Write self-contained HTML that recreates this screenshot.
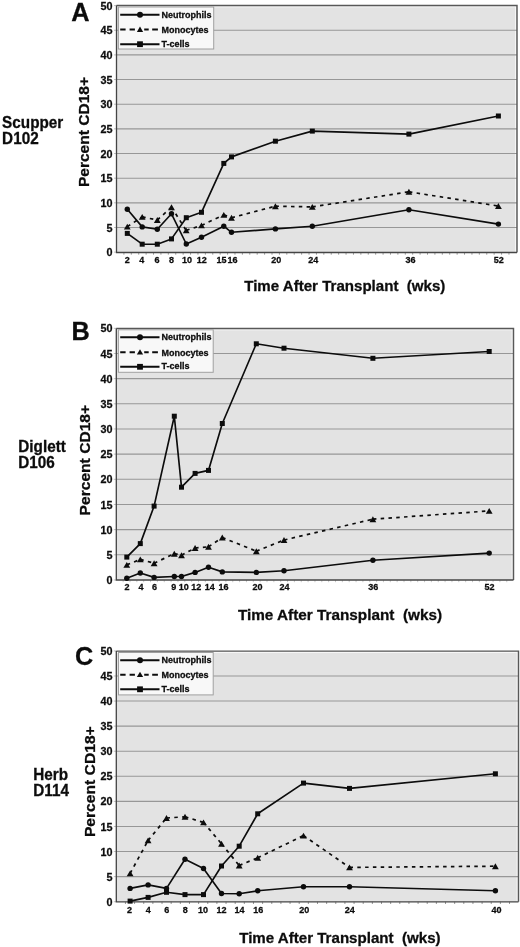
<!DOCTYPE html>
<html><head><meta charset="utf-8"><style>
html,body{margin:0;padding:0;background:#fff;}
body{width:520px;height:947px;overflow:hidden;}
svg{display:block;will-change:transform;}
text{font-family:"Liberation Sans", sans-serif;font-weight:bold;fill:#0c0c0c;stroke:#0c0c0c;stroke-width:0.28px;}
.yl{font-size:10.8px;}
.xl{font-size:9px;}
.lg{font-size:9px;}
.pl{font-size:25.3px;}
.sj{font-size:15.3px;}
.yt{font-size:15.2px;}
.xt{font-size:15px;}
</style></head><body>
<svg width="520" height="947" viewBox="0 0 520 947">
<rect width="520" height="947" fill="#fff"/>
<rect x="116.5" y="5.5" width="400.5" height="247" fill="#e3e3e3"/>
<line x1="116.5" y1="6.8" x2="516" y2="6.8" stroke="#fafafa" stroke-width="1"/>
<line x1="515.7" y1="6.5" x2="515.7" y2="252.5" stroke="#fafafa" stroke-width="1"/>
<line x1="116.5" y1="227.48" x2="517" y2="227.48" stroke="#979797" stroke-width="1.1"/>
<line x1="116.5" y1="202.83" x2="517" y2="202.83" stroke="#979797" stroke-width="1.1"/>
<line x1="116.5" y1="178.18" x2="517" y2="178.18" stroke="#979797" stroke-width="1.1"/>
<line x1="116.5" y1="153.52" x2="517" y2="153.52" stroke="#979797" stroke-width="1.1"/>
<line x1="116.5" y1="128.87" x2="517" y2="128.87" stroke="#979797" stroke-width="1.1"/>
<line x1="116.5" y1="104.21" x2="517" y2="104.21" stroke="#979797" stroke-width="1.1"/>
<line x1="116.5" y1="79.56" x2="517" y2="79.56" stroke="#979797" stroke-width="1.1"/>
<line x1="116.5" y1="54.9" x2="517" y2="54.9" stroke="#979797" stroke-width="1.1"/>
<line x1="116.5" y1="30.25" x2="517" y2="30.25" stroke="#979797" stroke-width="1.1"/>
<line x1="114" y1="252.14" x2="116.5" y2="252.14" stroke="#b0b0b0" stroke-width="0.8"/>
<line x1="114" y1="227.48" x2="116.5" y2="227.48" stroke="#b0b0b0" stroke-width="0.8"/>
<line x1="114" y1="202.83" x2="116.5" y2="202.83" stroke="#b0b0b0" stroke-width="0.8"/>
<line x1="114" y1="178.18" x2="116.5" y2="178.18" stroke="#b0b0b0" stroke-width="0.8"/>
<line x1="114" y1="153.52" x2="116.5" y2="153.52" stroke="#b0b0b0" stroke-width="0.8"/>
<line x1="114" y1="128.87" x2="116.5" y2="128.87" stroke="#b0b0b0" stroke-width="0.8"/>
<line x1="114" y1="104.21" x2="116.5" y2="104.21" stroke="#b0b0b0" stroke-width="0.8"/>
<line x1="114" y1="79.56" x2="116.5" y2="79.56" stroke="#b0b0b0" stroke-width="0.8"/>
<line x1="114" y1="54.9" x2="116.5" y2="54.9" stroke="#b0b0b0" stroke-width="0.8"/>
<line x1="114" y1="30.25" x2="116.5" y2="30.25" stroke="#b0b0b0" stroke-width="0.8"/>
<line x1="114" y1="5.59" x2="116.5" y2="5.59" stroke="#b0b0b0" stroke-width="0.8"/>
<path d="M123.91 252.5v2.2M131.31 252.5v2.2M138.72 252.5v2.2M146.12 252.5v2.2M153.53 252.5v2.2M160.93 252.5v2.2M168.34 252.5v2.2M175.74 252.5v2.2M183.15 252.5v2.2M190.55 252.5v2.2M197.96 252.5v2.2M205.36 252.5v2.2M212.77 252.5v2.2M220.17 252.5v2.2M227.58 252.5v2.2M234.98 252.5v2.2M242.39 252.5v2.2M249.79 252.5v2.2M257.19 252.5v2.2M264.6 252.5v2.2M272 252.5v2.2M279.41 252.5v2.2M286.81 252.5v2.2M294.22 252.5v2.2M301.62 252.5v2.2M309.03 252.5v2.2M316.43 252.5v2.2M323.84 252.5v2.2M331.24 252.5v2.2M338.65 252.5v2.2M346.05 252.5v2.2M353.46 252.5v2.2M360.86 252.5v2.2M368.27 252.5v2.2M375.67 252.5v2.2M383.08 252.5v2.2M390.48 252.5v2.2M397.89 252.5v2.2M405.29 252.5v2.2M412.7 252.5v2.2M420.1 252.5v2.2M427.51 252.5v2.2M434.91 252.5v2.2M442.32 252.5v2.2M449.72 252.5v2.2M457.13 252.5v2.2M464.53 252.5v2.2M471.94 252.5v2.2M479.34 252.5v2.2M486.75 252.5v2.2M494.15 252.5v2.2M501.56 252.5v2.2M508.96 252.5v2.2" stroke="#909090" stroke-width="0.9" fill="none"/>
<path d="M116.5 5.5H517V252.5" fill="none" stroke="#585858" stroke-width="1.45"/>
<path d="M116.5 5.5V252.5H517" fill="none" stroke="#454545" stroke-width="1.3"/>
<text x="112.5" y="256.24" text-anchor="end" class="yl">0</text>
<text x="112.5" y="231.58" text-anchor="end" class="yl">5</text>
<text x="112.5" y="206.93" text-anchor="end" class="yl">10</text>
<text x="112.5" y="182.28" text-anchor="end" class="yl">15</text>
<text x="112.5" y="157.62" text-anchor="end" class="yl">20</text>
<text x="112.5" y="132.97" text-anchor="end" class="yl">25</text>
<text x="112.5" y="108.31" text-anchor="end" class="yl">30</text>
<text x="112.5" y="83.66" text-anchor="end" class="yl">35</text>
<text x="112.5" y="59" text-anchor="end" class="yl">40</text>
<text x="112.5" y="34.35" text-anchor="end" class="yl">45</text>
<text x="112.5" y="9.69" text-anchor="end" class="yl">50</text>
<text x="127.2" y="262.8" text-anchor="middle" class="xl">2</text>
<text x="141.8" y="262.8" text-anchor="middle" class="xl">4</text>
<text x="157" y="262.8" text-anchor="middle" class="xl">6</text>
<text x="171.6" y="262.8" text-anchor="middle" class="xl">8</text>
<text x="187.1" y="262.8" text-anchor="middle" class="xl">10</text>
<text x="201.8" y="262.8" text-anchor="middle" class="xl">12</text>
<text x="221.5" y="262.8" text-anchor="middle" class="xl">15</text>
<text x="232.6" y="262.8" text-anchor="middle" class="xl">16</text>
<text x="276.3" y="262.8" text-anchor="middle" class="xl">20</text>
<text x="313.2" y="262.8" text-anchor="middle" class="xl">24</text>
<text x="410.5" y="262.8" text-anchor="middle" class="xl">36</text>
<text x="498.8" y="262.8" text-anchor="middle" class="xl">52</text>
<polyline points="127.3,209.2 142.2,226.9 157.3,229.2 171.5,213.8 186.3,244 201.5,237.2 223.8,226.2 231.5,232.3 275.4,228.9 312.3,226.2 408.9,209.7 498.4,224.1" fill="none" stroke="#0c0c0c" stroke-width="1.65" stroke-linejoin="round"/>
<g stroke="#0c0c0c" stroke-width="1.7" stroke-dasharray="3.5,4.3"><line x1="127.3" y1="226.6" x2="142.2" y2="216.9"/><line x1="142.2" y1="216.9" x2="157.3" y2="220"/><line x1="157.3" y1="220" x2="171.5" y2="207.2"/><line x1="171.5" y1="207.2" x2="186.2" y2="230.4"/><line x1="186.2" y1="230.4" x2="201.5" y2="225.4"/><line x1="201.5" y1="225.4" x2="223.8" y2="214.9"/><line x1="223.8" y1="214.9" x2="231.5" y2="217.7"/><line x1="231.5" y1="217.7" x2="275.4" y2="206.2"/><line x1="275.4" y1="206.2" x2="312.3" y2="206.9"/><line x1="312.3" y1="206.9" x2="408.9" y2="191.8"/><line x1="408.9" y1="191.8" x2="498.4" y2="206"/></g>
<polyline points="127.3,233.4 142.2,244.2 157.3,244.2 171.5,238.9 186.3,217.7 201.5,212.3 223.8,163.4 231.5,156.9 275.4,141.2 312.3,131.1 408.9,134.1 498.4,116" fill="none" stroke="#0c0c0c" stroke-width="1.65" stroke-linejoin="round"/>
<g fill="#0c0c0c"><circle cx="127.3" cy="209.2" r="2.7"/><circle cx="142.2" cy="226.9" r="2.7"/><circle cx="157.3" cy="229.2" r="2.7"/><circle cx="171.5" cy="213.8" r="2.7"/><circle cx="186.3" cy="244" r="2.7"/><circle cx="201.5" cy="237.2" r="2.7"/><circle cx="223.8" cy="226.2" r="2.7"/><circle cx="231.5" cy="232.3" r="2.7"/><circle cx="275.4" cy="228.9" r="2.7"/><circle cx="312.3" cy="226.2" r="2.7"/><circle cx="408.9" cy="209.7" r="2.7"/><circle cx="498.4" cy="224.1" r="2.7"/></g>
<g fill="#0c0c0c"><polygon points="127.3,223.65 123.9,229.55 130.7,229.55"/><polygon points="142.2,213.95 138.8,219.85 145.6,219.85"/><polygon points="157.3,217.05 153.9,222.95 160.7,222.95"/><polygon points="171.5,204.25 168.1,210.15 174.9,210.15"/><polygon points="186.2,227.45 182.8,233.35 189.6,233.35"/><polygon points="201.5,222.45 198.1,228.35 204.9,228.35"/><polygon points="223.8,211.95 220.4,217.85 227.2,217.85"/><polygon points="231.5,214.75 228.1,220.65 234.9,220.65"/><polygon points="275.4,203.25 272,209.15 278.8,209.15"/><polygon points="312.3,203.95 308.9,209.85 315.7,209.85"/><polygon points="408.9,188.85 405.5,194.75 412.3,194.75"/><polygon points="498.4,203.05 495,208.95 501.8,208.95"/></g>
<g fill="#0c0c0c"><rect x="124.8" y="230.9" width="5" height="5"/><rect x="139.7" y="241.7" width="5" height="5"/><rect x="154.8" y="241.7" width="5" height="5"/><rect x="169" y="236.4" width="5" height="5"/><rect x="183.8" y="215.2" width="5" height="5"/><rect x="199" y="209.8" width="5" height="5"/><rect x="221.3" y="160.9" width="5" height="5"/><rect x="229" y="154.4" width="5" height="5"/><rect x="272.9" y="138.7" width="5" height="5"/><rect x="309.8" y="128.6" width="5" height="5"/><rect x="406.4" y="131.6" width="5" height="5"/><rect x="495.9" y="113.5" width="5" height="5"/></g>
<rect x="118.4" y="7" width="95.3" height="42" fill="#f8f8f8" stroke="#a0a0a0" stroke-width="1"/>
<line x1="120.2" y1="14.8" x2="159.5" y2="14.8" stroke="#0c0c0c" stroke-width="2.1"/>
<g fill="#0c0c0c"><circle cx="140" cy="14.8" r="3"/></g>
<text x="161.4" y="17.5" class="lg">Neutrophils</text>
<path d="M120.2 29.5H125.6M129.6 29.5H134.9M144.2 29.5H148.7M152.2 29.5H157.9" stroke="#0c0c0c" stroke-width="2.1"/>
<g fill="#0c0c0c"><polygon points="140,26.5 136.85,31.9 143.15,31.9"/></g>
<text x="161.4" y="33.1" class="lg">Monocytes</text>
<line x1="120.2" y1="44.2" x2="159.5" y2="44.2" stroke="#0c0c0c" stroke-width="2.1"/>
<g fill="#0c0c0c"><rect x="137.1" y="41.3" width="5.8" height="5.8"/></g>
<text x="161.4" y="46.6" class="lg">T-cells</text>
<text x="71.2" y="21.2" class="pl">A</text>
<text transform="translate(2.1,128.4) scale(1,1.04)" class="sj">Scupper</text>
<text transform="translate(2.1,144) scale(1,1.04)" class="sj">D102</text>
<text transform="translate(89,132.05) rotate(-90)" text-anchor="middle" class="yt" textLength="110.1" lengthAdjust="spacingAndGlyphs">Percent CD18+</text>
<text x="244.2" y="291.2" class="xt" textLength="201.2" lengthAdjust="spacingAndGlyphs">Time After Transplant&#160;&#160;(wks)</text>
<rect x="116.3" y="328.5" width="397.2" height="251.5" fill="#e3e3e3"/>
<line x1="116.3" y1="329.8" x2="512.5" y2="329.8" stroke="#fafafa" stroke-width="1"/>
<line x1="512.2" y1="329.5" x2="512.2" y2="580" stroke="#fafafa" stroke-width="1"/>
<line x1="116.3" y1="554.8" x2="513.5" y2="554.8" stroke="#979797" stroke-width="1.1"/>
<line x1="116.3" y1="529.63" x2="513.5" y2="529.63" stroke="#979797" stroke-width="1.1"/>
<line x1="116.3" y1="504.47" x2="513.5" y2="504.47" stroke="#979797" stroke-width="1.1"/>
<line x1="116.3" y1="479.31" x2="513.5" y2="479.31" stroke="#979797" stroke-width="1.1"/>
<line x1="116.3" y1="454.14" x2="513.5" y2="454.14" stroke="#979797" stroke-width="1.1"/>
<line x1="116.3" y1="428.98" x2="513.5" y2="428.98" stroke="#979797" stroke-width="1.1"/>
<line x1="116.3" y1="403.82" x2="513.5" y2="403.82" stroke="#979797" stroke-width="1.1"/>
<line x1="116.3" y1="378.66" x2="513.5" y2="378.66" stroke="#979797" stroke-width="1.1"/>
<line x1="116.3" y1="353.49" x2="513.5" y2="353.49" stroke="#979797" stroke-width="1.1"/>
<line x1="113.8" y1="579.96" x2="116.3" y2="579.96" stroke="#b0b0b0" stroke-width="0.8"/>
<line x1="113.8" y1="554.8" x2="116.3" y2="554.8" stroke="#b0b0b0" stroke-width="0.8"/>
<line x1="113.8" y1="529.63" x2="116.3" y2="529.63" stroke="#b0b0b0" stroke-width="0.8"/>
<line x1="113.8" y1="504.47" x2="116.3" y2="504.47" stroke="#b0b0b0" stroke-width="0.8"/>
<line x1="113.8" y1="479.31" x2="116.3" y2="479.31" stroke="#b0b0b0" stroke-width="0.8"/>
<line x1="113.8" y1="454.14" x2="116.3" y2="454.14" stroke="#b0b0b0" stroke-width="0.8"/>
<line x1="113.8" y1="428.98" x2="116.3" y2="428.98" stroke="#b0b0b0" stroke-width="0.8"/>
<line x1="113.8" y1="403.82" x2="116.3" y2="403.82" stroke="#b0b0b0" stroke-width="0.8"/>
<line x1="113.8" y1="378.66" x2="116.3" y2="378.66" stroke="#b0b0b0" stroke-width="0.8"/>
<line x1="113.8" y1="353.49" x2="116.3" y2="353.49" stroke="#b0b0b0" stroke-width="0.8"/>
<line x1="113.8" y1="328.33" x2="116.3" y2="328.33" stroke="#b0b0b0" stroke-width="0.8"/>
<path d="M123.15 580v2.2M130 580v2.2M136.85 580v2.2M143.7 580v2.2M150.55 580v2.2M157.4 580v2.2M164.25 580v2.2M171.1 580v2.2M177.95 580v2.2M184.8 580v2.2M191.65 580v2.2M198.5 580v2.2M205.35 580v2.2M212.2 580v2.2M219.05 580v2.2M225.9 580v2.2M232.75 580v2.2M239.6 580v2.2M246.45 580v2.2M253.3 580v2.2M260.15 580v2.2M267 580v2.2M273.85 580v2.2M280.7 580v2.2M287.55 580v2.2M294.4 580v2.2M301.25 580v2.2M308.1 580v2.2M314.95 580v2.2M321.8 580v2.2M328.65 580v2.2M335.5 580v2.2M342.35 580v2.2M349.2 580v2.2M356.05 580v2.2M362.9 580v2.2M369.75 580v2.2M376.6 580v2.2M383.45 580v2.2M390.3 580v2.2M397.15 580v2.2M404 580v2.2M410.85 580v2.2M417.7 580v2.2M424.55 580v2.2M431.4 580v2.2M438.25 580v2.2M445.1 580v2.2M451.95 580v2.2M458.8 580v2.2M465.65 580v2.2M472.5 580v2.2M479.35 580v2.2M486.2 580v2.2M493.05 580v2.2M499.9 580v2.2M506.75 580v2.2" stroke="#c4c4c4" stroke-width="0.9" fill="none"/>
<path d="M116.3 328.5H513.5V580" fill="none" stroke="#585858" stroke-width="1.45"/>
<path d="M116.3 328.5V580H513.5" fill="none" stroke="#454545" stroke-width="1.3"/>
<text x="112.5" y="584.06" text-anchor="end" class="yl">0</text>
<text x="112.5" y="558.9" text-anchor="end" class="yl">5</text>
<text x="112.5" y="533.73" text-anchor="end" class="yl">10</text>
<text x="112.5" y="508.57" text-anchor="end" class="yl">15</text>
<text x="112.5" y="483.41" text-anchor="end" class="yl">20</text>
<text x="112.5" y="458.25" text-anchor="end" class="yl">25</text>
<text x="112.5" y="433.08" text-anchor="end" class="yl">30</text>
<text x="112.5" y="407.92" text-anchor="end" class="yl">35</text>
<text x="112.5" y="382.76" text-anchor="end" class="yl">40</text>
<text x="112.5" y="357.59" text-anchor="end" class="yl">45</text>
<text x="112.5" y="332.43" text-anchor="end" class="yl">50</text>
<text x="127" y="589.9" text-anchor="middle" class="xl">2</text>
<text x="141" y="589.9" text-anchor="middle" class="xl">4</text>
<text x="154.4" y="589.9" text-anchor="middle" class="xl">6</text>
<text x="173.8" y="589.9" text-anchor="middle" class="xl">9</text>
<text x="183.8" y="589.9" text-anchor="middle" class="xl">10</text>
<text x="196.3" y="589.9" text-anchor="middle" class="xl">12</text>
<text x="209.7" y="589.9" text-anchor="middle" class="xl">14</text>
<text x="223.4" y="589.9" text-anchor="middle" class="xl">16</text>
<text x="257.4" y="589.9" text-anchor="middle" class="xl">20</text>
<text x="284.4" y="589.9" text-anchor="middle" class="xl">24</text>
<text x="373.2" y="589.9" text-anchor="middle" class="xl">36</text>
<text x="489.5" y="589.9" text-anchor="middle" class="xl">52</text>
<polyline points="126.8,578.2 140.3,573 154.1,577.4 174.3,576.5 181.5,576.5 195.1,572.4 208.5,567.3 222.3,571.9 256.3,572.4 284,570.8 372.9,560.2 489.2,553.1" fill="none" stroke="#0c0c0c" stroke-width="1.65" stroke-linejoin="round"/>
<g stroke="#0c0c0c" stroke-width="1.7" stroke-dasharray="3.5,4.3"><line x1="126.8" y1="564.9" x2="140.3" y2="559.4"/><line x1="140.3" y1="559.4" x2="154.1" y2="563.2"/><line x1="154.1" y1="563.2" x2="174.3" y2="553.7"/><line x1="174.3" y1="553.7" x2="181.5" y2="555.2"/><line x1="181.5" y1="555.2" x2="195.1" y2="548"/><line x1="195.1" y1="548" x2="208.5" y2="546.8"/><line x1="208.5" y1="546.8" x2="222.3" y2="537.5"/><line x1="222.3" y1="537.5" x2="256.3" y2="551.2"/><line x1="256.3" y1="551.2" x2="284" y2="540"/><line x1="284" y1="540" x2="372.9" y2="519.2"/><line x1="372.9" y1="519.2" x2="489.2" y2="510.9"/></g>
<polyline points="126.8,557.1 140.3,543.6 154.1,506.1 174.3,416.2 181.5,487.2 195.1,473.4 208.5,470.4 222.3,423.5 256.3,343.8 284,348.2 372.9,358.3 489.2,351.5" fill="none" stroke="#0c0c0c" stroke-width="1.65" stroke-linejoin="round"/>
<g fill="#0c0c0c"><circle cx="126.8" cy="578.2" r="2.7"/><circle cx="140.3" cy="573" r="2.7"/><circle cx="154.1" cy="577.4" r="2.7"/><circle cx="174.3" cy="576.5" r="2.7"/><circle cx="181.5" cy="576.5" r="2.7"/><circle cx="195.1" cy="572.4" r="2.7"/><circle cx="208.5" cy="567.3" r="2.7"/><circle cx="222.3" cy="571.9" r="2.7"/><circle cx="256.3" cy="572.4" r="2.7"/><circle cx="284" cy="570.8" r="2.7"/><circle cx="372.9" cy="560.2" r="2.7"/><circle cx="489.2" cy="553.1" r="2.7"/></g>
<g fill="#0c0c0c"><polygon points="126.8,561.95 123.4,567.85 130.2,567.85"/><polygon points="140.3,556.45 136.9,562.35 143.7,562.35"/><polygon points="154.1,560.25 150.7,566.15 157.5,566.15"/><polygon points="174.3,550.75 170.9,556.65 177.7,556.65"/><polygon points="181.5,552.25 178.1,558.15 184.9,558.15"/><polygon points="195.1,545.05 191.7,550.95 198.5,550.95"/><polygon points="208.5,543.85 205.1,549.75 211.9,549.75"/><polygon points="222.3,534.55 218.9,540.45 225.7,540.45"/><polygon points="256.3,548.25 252.9,554.15 259.7,554.15"/><polygon points="284,537.05 280.6,542.95 287.4,542.95"/><polygon points="372.9,516.25 369.5,522.15 376.3,522.15"/><polygon points="489.2,507.95 485.8,513.85 492.6,513.85"/></g>
<g fill="#0c0c0c"><rect x="124.3" y="554.6" width="5" height="5"/><rect x="137.8" y="541.1" width="5" height="5"/><rect x="151.6" y="503.6" width="5" height="5"/><rect x="171.8" y="413.7" width="5" height="5"/><rect x="179" y="484.7" width="5" height="5"/><rect x="192.6" y="470.9" width="5" height="5"/><rect x="206" y="467.9" width="5" height="5"/><rect x="219.8" y="421" width="5" height="5"/><rect x="253.8" y="341.3" width="5" height="5"/><rect x="281.5" y="345.7" width="5" height="5"/><rect x="370.4" y="355.8" width="5" height="5"/><rect x="486.7" y="349" width="5" height="5"/></g>
<rect x="118.4" y="329.8" width="94.8" height="42.5" fill="#f8f8f8" stroke="#a0a0a0" stroke-width="1"/>
<line x1="120.2" y1="337.2" x2="159.5" y2="337.2" stroke="#0c0c0c" stroke-width="2.1"/>
<g fill="#0c0c0c"><circle cx="140" cy="337.2" r="3"/></g>
<text x="161.4" y="339.9" class="lg">Neutrophils</text>
<path d="M120.2 352.2H125.6M129.6 352.2H134.9M144.2 352.2H148.7M152.2 352.2H157.9" stroke="#0c0c0c" stroke-width="2.1"/>
<g fill="#0c0c0c"><polygon points="140,349.2 136.85,354.6 143.15,354.6"/></g>
<text x="161.4" y="355.8" class="lg">Monocytes</text>
<line x1="120.2" y1="366.8" x2="159.5" y2="366.8" stroke="#0c0c0c" stroke-width="2.1"/>
<g fill="#0c0c0c"><rect x="137.1" y="363.9" width="5.8" height="5.8"/></g>
<text x="161.4" y="369.2" class="lg">T-cells</text>
<text x="71.6" y="340.2" class="pl">B</text>
<text transform="translate(18.3,451.8) scale(1,1.04)" class="sj">Diglett</text>
<text transform="translate(18.3,467.7) scale(1,1.04)" class="sj">D106</text>
<text transform="translate(90,460.15) rotate(-90)" text-anchor="middle" class="yt" textLength="110.5" lengthAdjust="spacingAndGlyphs">Percent CD18+</text>
<text x="237.9" y="619.6" class="xt" textLength="204.2" lengthAdjust="spacingAndGlyphs">Time After Transplant&#160;&#160;(wks)</text>
<rect x="116.3" y="651.1" width="402.2" height="250.7" fill="#e3e3e3"/>
<line x1="116.3" y1="652.4" x2="517.5" y2="652.4" stroke="#fafafa" stroke-width="1"/>
<line x1="517.2" y1="652.1" x2="517.2" y2="901.8" stroke="#fafafa" stroke-width="1"/>
<line x1="116.3" y1="876.61" x2="518.5" y2="876.61" stroke="#979797" stroke-width="1.1"/>
<line x1="116.3" y1="851.53" x2="518.5" y2="851.53" stroke="#979797" stroke-width="1.1"/>
<line x1="116.3" y1="826.46" x2="518.5" y2="826.46" stroke="#979797" stroke-width="1.1"/>
<line x1="116.3" y1="801.38" x2="518.5" y2="801.38" stroke="#979797" stroke-width="1.1"/>
<line x1="116.3" y1="776.3" x2="518.5" y2="776.3" stroke="#979797" stroke-width="1.1"/>
<line x1="116.3" y1="751.22" x2="518.5" y2="751.22" stroke="#979797" stroke-width="1.1"/>
<line x1="116.3" y1="726.14" x2="518.5" y2="726.14" stroke="#979797" stroke-width="1.1"/>
<line x1="116.3" y1="701.07" x2="518.5" y2="701.07" stroke="#979797" stroke-width="1.1"/>
<line x1="116.3" y1="675.99" x2="518.5" y2="675.99" stroke="#979797" stroke-width="1.1"/>
<line x1="113.8" y1="901.69" x2="116.3" y2="901.69" stroke="#b0b0b0" stroke-width="0.8"/>
<line x1="113.8" y1="876.61" x2="116.3" y2="876.61" stroke="#b0b0b0" stroke-width="0.8"/>
<line x1="113.8" y1="851.53" x2="116.3" y2="851.53" stroke="#b0b0b0" stroke-width="0.8"/>
<line x1="113.8" y1="826.46" x2="116.3" y2="826.46" stroke="#b0b0b0" stroke-width="0.8"/>
<line x1="113.8" y1="801.38" x2="116.3" y2="801.38" stroke="#b0b0b0" stroke-width="0.8"/>
<line x1="113.8" y1="776.3" x2="116.3" y2="776.3" stroke="#b0b0b0" stroke-width="0.8"/>
<line x1="113.8" y1="751.22" x2="116.3" y2="751.22" stroke="#b0b0b0" stroke-width="0.8"/>
<line x1="113.8" y1="726.14" x2="116.3" y2="726.14" stroke="#b0b0b0" stroke-width="0.8"/>
<line x1="113.8" y1="701.07" x2="116.3" y2="701.07" stroke="#b0b0b0" stroke-width="0.8"/>
<line x1="113.8" y1="675.99" x2="116.3" y2="675.99" stroke="#b0b0b0" stroke-width="0.8"/>
<line x1="113.8" y1="650.91" x2="116.3" y2="650.91" stroke="#b0b0b0" stroke-width="0.8"/>
<path d="M125.44 901.8v2.2M134.59 901.8v2.2M143.74 901.8v2.2M152.88 901.8v2.2M162.03 901.8v2.2M171.17 901.8v2.2M180.32 901.8v2.2M189.46 901.8v2.2M198.61 901.8v2.2M207.75 901.8v2.2M216.9 901.8v2.2M226.04 901.8v2.2M235.19 901.8v2.2M244.33 901.8v2.2M253.48 901.8v2.2M262.62 901.8v2.2M271.77 901.8v2.2M280.91 901.8v2.2M290.06 901.8v2.2M299.2 901.8v2.2M308.35 901.8v2.2M317.49 901.8v2.2M326.63 901.8v2.2M335.78 901.8v2.2M344.92 901.8v2.2M354.07 901.8v2.2M363.21 901.8v2.2M372.36 901.8v2.2M381.5 901.8v2.2M390.65 901.8v2.2M399.79 901.8v2.2M408.94 901.8v2.2M418.08 901.8v2.2M427.23 901.8v2.2M436.37 901.8v2.2M445.52 901.8v2.2M454.66 901.8v2.2M463.81 901.8v2.2M472.95 901.8v2.2M482.1 901.8v2.2M491.24 901.8v2.2M500.39 901.8v2.2M509.53 901.8v2.2" stroke="#8a8a8a" stroke-width="0.9" fill="none"/>
<path d="M116.3 651.1H518.5V901.8" fill="none" stroke="#585858" stroke-width="1.45"/>
<path d="M116.3 651.1V901.8H518.5" fill="none" stroke="#454545" stroke-width="1.3"/>
<text x="112.5" y="905.79" text-anchor="end" class="yl">0</text>
<text x="112.5" y="880.71" text-anchor="end" class="yl">5</text>
<text x="112.5" y="855.63" text-anchor="end" class="yl">10</text>
<text x="112.5" y="830.56" text-anchor="end" class="yl">15</text>
<text x="112.5" y="805.48" text-anchor="end" class="yl">20</text>
<text x="112.5" y="780.4" text-anchor="end" class="yl">25</text>
<text x="112.5" y="755.32" text-anchor="end" class="yl">30</text>
<text x="112.5" y="730.24" text-anchor="end" class="yl">35</text>
<text x="112.5" y="705.17" text-anchor="end" class="yl">40</text>
<text x="112.5" y="680.09" text-anchor="end" class="yl">45</text>
<text x="112.5" y="655.01" text-anchor="end" class="yl">50</text>
<text x="129.6" y="912.9" text-anchor="middle" class="xl">2</text>
<text x="148.3" y="912.9" text-anchor="middle" class="xl">4</text>
<text x="166.8" y="912.9" text-anchor="middle" class="xl">6</text>
<text x="185.3" y="912.9" text-anchor="middle" class="xl">8</text>
<text x="203.1" y="912.9" text-anchor="middle" class="xl">10</text>
<text x="221.5" y="912.9" text-anchor="middle" class="xl">12</text>
<text x="239.6" y="912.9" text-anchor="middle" class="xl">14</text>
<text x="258.3" y="912.9" text-anchor="middle" class="xl">16</text>
<text x="304.3" y="912.9" text-anchor="middle" class="xl">20</text>
<text x="349.8" y="912.9" text-anchor="middle" class="xl">24</text>
<text x="496.4" y="912.9" text-anchor="middle" class="xl">40</text>
<polyline points="130.1,888.4 148.1,884.9 166.5,888.4 185,859.3 203.5,868.5 221.5,893.5 239.2,893.8 257.7,890.8 303.5,886.7 349.5,886.7 495.4,890.8" fill="none" stroke="#0c0c0c" stroke-width="1.65" stroke-linejoin="round"/>
<g stroke="#0c0c0c" stroke-width="1.7" stroke-dasharray="3.5,4.3"><line x1="130.1" y1="873.4" x2="148.1" y2="840.4"/><line x1="148.1" y1="840.4" x2="166.5" y2="818"/><line x1="166.5" y1="818" x2="185" y2="816.8"/><line x1="185" y1="816.8" x2="203.5" y2="822.4"/><line x1="203.5" y1="822.4" x2="221.5" y2="843.8"/><line x1="221.5" y1="843.8" x2="239.2" y2="865.5"/><line x1="239.2" y1="865.5" x2="257.7" y2="857.8"/><line x1="257.7" y1="857.8" x2="303.5" y2="835.6"/><line x1="303.5" y1="835.6" x2="349.5" y2="867.4"/><line x1="349.5" y1="867.4" x2="495.4" y2="866.2"/></g>
<polyline points="130.1,901.1 148.1,897.4 166.5,892.3 185,894.6 203.5,894.6 221.5,866 239.2,846.2 257.7,813.8 303.5,783.1 349.5,788.4 495.4,773.8" fill="none" stroke="#0c0c0c" stroke-width="1.65" stroke-linejoin="round"/>
<g fill="#0c0c0c"><circle cx="130.1" cy="888.4" r="2.7"/><circle cx="148.1" cy="884.9" r="2.7"/><circle cx="166.5" cy="888.4" r="2.7"/><circle cx="185" cy="859.3" r="2.7"/><circle cx="203.5" cy="868.5" r="2.7"/><circle cx="221.5" cy="893.5" r="2.7"/><circle cx="239.2" cy="893.8" r="2.7"/><circle cx="257.7" cy="890.8" r="2.7"/><circle cx="303.5" cy="886.7" r="2.7"/><circle cx="349.5" cy="886.7" r="2.7"/><circle cx="495.4" cy="890.8" r="2.7"/></g>
<g fill="#0c0c0c"><polygon points="130.1,870.45 126.7,876.35 133.5,876.35"/><polygon points="148.1,837.45 144.7,843.35 151.5,843.35"/><polygon points="166.5,815.05 163.1,820.95 169.9,820.95"/><polygon points="185,813.85 181.6,819.75 188.4,819.75"/><polygon points="203.5,819.45 200.1,825.35 206.9,825.35"/><polygon points="221.5,840.85 218.1,846.75 224.9,846.75"/><polygon points="239.2,862.55 235.8,868.45 242.6,868.45"/><polygon points="257.7,854.85 254.3,860.75 261.1,860.75"/><polygon points="303.5,832.65 300.1,838.55 306.9,838.55"/><polygon points="349.5,864.45 346.1,870.35 352.9,870.35"/><polygon points="495.4,863.25 492,869.15 498.8,869.15"/></g>
<g fill="#0c0c0c"><rect x="127.6" y="898.6" width="5" height="5"/><rect x="145.6" y="894.9" width="5" height="5"/><rect x="164" y="889.8" width="5" height="5"/><rect x="182.5" y="892.1" width="5" height="5"/><rect x="201" y="892.1" width="5" height="5"/><rect x="219" y="863.5" width="5" height="5"/><rect x="236.7" y="843.7" width="5" height="5"/><rect x="255.2" y="811.3" width="5" height="5"/><rect x="301" y="780.6" width="5" height="5"/><rect x="347" y="785.9" width="5" height="5"/><rect x="492.9" y="771.3" width="5" height="5"/></g>
<rect x="118.5" y="652.5" width="94.7" height="42.4" fill="#f8f8f8" stroke="#a0a0a0" stroke-width="1"/>
<line x1="120.2" y1="660.3" x2="159.5" y2="660.3" stroke="#0c0c0c" stroke-width="2.1"/>
<g fill="#0c0c0c"><circle cx="140" cy="660.3" r="3"/></g>
<text x="161.4" y="663" class="lg">Neutrophils</text>
<path d="M120.2 674.7H125.6M129.6 674.7H134.9M144.2 674.7H148.7M152.2 674.7H157.9" stroke="#0c0c0c" stroke-width="2.1"/>
<g fill="#0c0c0c"><polygon points="140,671.7 136.85,677.1 143.15,677.1"/></g>
<text x="161.4" y="678.3" class="lg">Monocytes</text>
<line x1="120.2" y1="689.3" x2="159.5" y2="689.3" stroke="#0c0c0c" stroke-width="2.1"/>
<g fill="#0c0c0c"><rect x="137.1" y="686.4" width="5.8" height="5.8"/></g>
<text x="161.4" y="691.7" class="lg">T-cells</text>
<text x="75" y="665.2" class="pl">C</text>
<text transform="translate(33.2,779.8) scale(1,1.04)" class="sj">Herb</text>
<text transform="translate(33.2,795.6) scale(1,1.04)" class="sj">D114</text>
<text transform="translate(94.6,781.7) rotate(-90)" text-anchor="middle" class="yt" textLength="110.8" lengthAdjust="spacingAndGlyphs">Percent CD18+</text>
<text x="239.2" y="942.5" class="xt" textLength="201.4" lengthAdjust="spacingAndGlyphs">Time After Transplant&#160;&#160;(wks)</text>
</svg>
</body></html>
